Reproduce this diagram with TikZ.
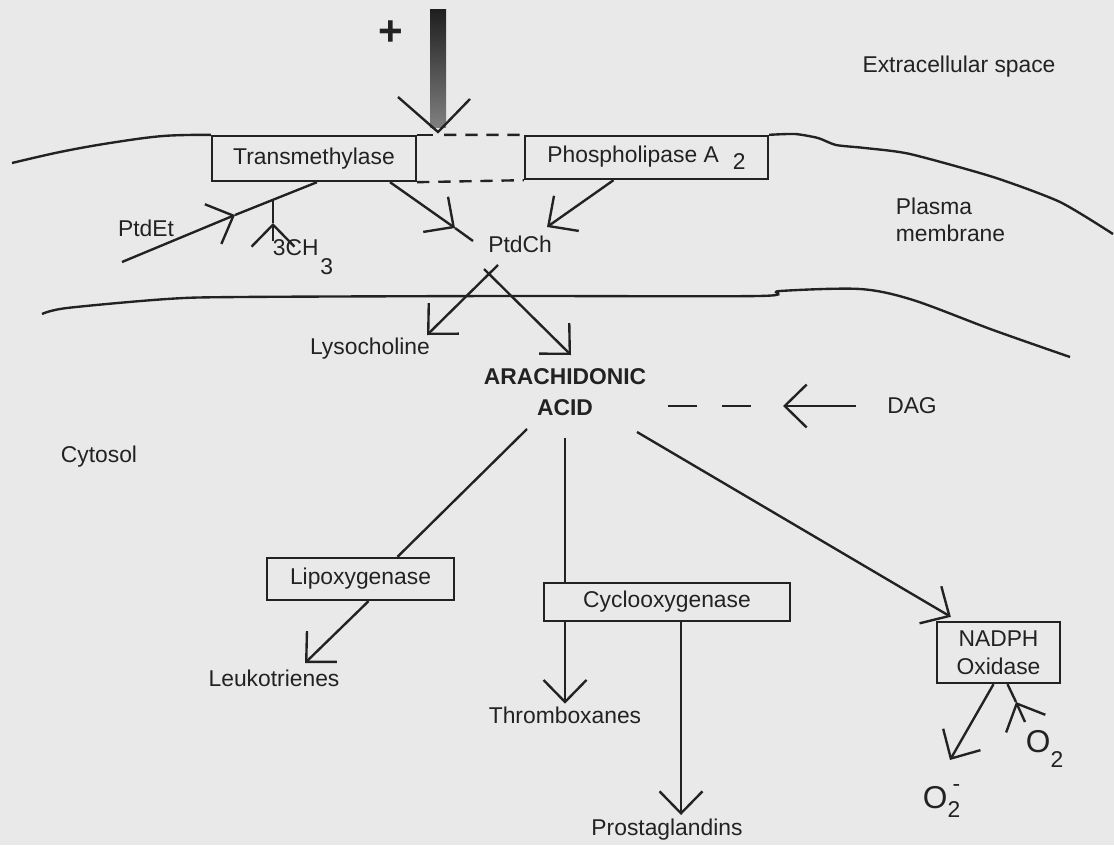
\documentclass[tikz,border=0pt]{standalone}
\usepackage{fontspec}
\setmainfont{Liberation Sans}
\usetikzlibrary{calc, arrows.meta}
\definecolor{paper}{RGB}{233,233,233}
\definecolor{ink}{RGB}{34,34,34}

\begin{document}
\begin{tikzpicture}[x=0.02cm, y=-0.02cm, line width=1.35pt, color=ink,
    lbl/.style={font=\fontsize{13}{15}\selectfont, text=ink, inner sep=1pt},
    enzyme/.style={lbl, draw=ink, line width=1.35pt, inner sep=0pt},
    barb/.style={-{Straight Barb[length=0.44cm, width=0.86cm]}},
    gapdash/.style={dash pattern=on 7pt off 5pt},
    dagdash/.style={dash pattern=on 16.5pt off 14pt}]
    \fill[paper] (0,0) rectangle (1114,845);
    \useasboundingbox (0,0) rectangle (1114,845);

    \coordinate (stim) at (438,132);
    \coordinate (et0) at (122,262);
    \coordinate (etTip) at (235,215);
    \coordinate (chFoot) at (273,241);
    \coordinate (chTip) at (273,223);
    \coordinate (chJoin) at (273,200);
    \coordinate (tmTip) at (455,228);
    \coordinate (tmEnd) at (473,241);
    \coordinate (plTip) at (547,227);
    \coordinate (pcL) at (498,265);
    \coordinate (pcR) at (484,269);
    \coordinate (lyTip) at (427,335);
    \coordinate (aaTip) at (571,355);
    \coordinate (dagTip) at (783,406);
    \coordinate (aaDash) at (668,406);
    \coordinate (dashEnd) at (760,406);
    \coordinate (aaSW) at (527,429);
    \coordinate (aaS) at (565,438);
    \coordinate (aaSE) at (637,432);
    \coordinate (lkTip) at (305,663);
    \coordinate (pgTip) at (681,815);
    \coordinate (soxTip) at (950,760);
    \coordinate (o2Foot) at (1025,722);
    \coordinate (o2Tip) at (1016,702);

    \node[lbl, font=\fontsize{24}{24}\selectfont\bfseries] (plus) at (391,33) {+};
    \node[lbl] (ecs) at (959,67) {Extracellular space};
    \node[lbl, align=left, anchor=west] (pm) at (893,220) {Plasma\\membrane};
    \node[enzyme, minimum width=4.08cm, minimum height=0.9cm] (tm) at (314,158.5) {Transmethylase};
    \node[enzyme, minimum width=4.86cm, minimum height=0.86cm] (pl) at (646.5,157.5) {Phospholipase A\hspace{8pt}\raisebox{-4pt}{2}};
    \node[lbl] (et) at (146,228) {PtdEt};
    \node[lbl, anchor=base west] (ch) at (270,255) {3CH\hspace{1pt}\raisebox{-11pt}{3}};
    \node[lbl] (pc) at (520,244) {PtdCh};
    \node[lbl] (ly) at (370,349) {Lysocholine};
    \node[lbl, font=\fontsize{13}{17.5}\selectfont\bfseries, align=center] (aa) at (565,392) {ARACHIDONIC\\ACID};
    \node[lbl] (dag) at (912,406) {DAG};
    \node[lbl] (cy) at (99,457) {Cytosol};
    \node[enzyme, minimum width=3.74cm, minimum height=0.84cm] (lx) at (360.5,579) {Lipoxygenase};
    \node[enzyme, minimum width=4.92cm, minimum height=0.76cm] (cx) at (667,602) {Cyclooxygenase\hspace{8pt}};
    \node[enzyme, minimum width=2.46cm, minimum height=1.22cm, align=center, font=\fontsize{13}{16}\selectfont] (ox) at (998.5,652.5) {NADPH\\Oxidase};
    \node[lbl] (lk) at (274,678) {Leukotrienes};
    \node[lbl] (tb) at (565,715) {Thromboxanes};
    \node[lbl] (pg) at (667,830) {Prostaglandins};
    \node[lbl, anchor=base west, font=\fontsize{18}{18}\selectfont] (sox) at (920,808) {O\raisebox{-5.5pt}{\fontsize{13}{13}\selectfont 2}\llap{\raisebox{9.5pt}{\fontsize{13}{13}\selectfont -}}};
    \node[lbl, anchor=base west, font=\fontsize{18}{18}\selectfont] (o2) at (1023,752) {O\raisebox{-9pt}{\fontsize{13}{13}\selectfont 2}};

    \shade[top color=black!88, bottom color=black!50] (430,9) rectangle (446,127);
    \draw (398,97) -- (stim) -- (470,99);

    \draw plot[smooth, tension=0.6] coordinates {(12,163) (60,152) (110,143) (163,136) (tm.north west)};
    \draw (tm.north east) -- ($(tm.north east)+(16,0)$);
    \draw[gapdash] ($(tm.north east)+(27,0)$) -- (pl.north west);
    \draw[gapdash] (tm.south east) -- (pl.south west);
    \draw plot[smooth, tension=0.4] coordinates {(pl.north east) (795,134) (818,138) (836,145) (865,148) (910,154) (993,177) (1060,202) (1113,234)};
    \draw plot[smooth, tension=0.5] coordinates {(42,314) (67,308) (167,299) (240,297) (500,296) (758,296) (780,291) (860,289) (913,300) (993,330) (1070,357)};

    \draw[barb] (et0) -- (etTip);
    \draw (etTip) -- ($(tm.south)+(3,0)$);
    \draw[barb] (chFoot) -- (chTip);
    \draw (chTip) -- (chJoin);
    \draw[barb] ($(tm.south)+(76,0)$) -- (tmTip);
    \draw (tmTip) -- (tmEnd);
    \draw[barb] ($(pl.south)+(-33,0)$) -- (plTip);

    \draw[barb] (pcL) -- (lyTip);
    \draw[barb] (pcR) -- (aaTip);
    \draw[barb] ($(dag.west)+(-28,0)$) -- (dagTip);
    \draw[dagdash] (aaDash) -- (dashEnd);

    \draw (aaSW) -- ($(lx.north)+(37,0)$);
    \draw[barb] ($(lx.south)+(8,0)$) -- (lkTip);
    \draw (aaS) -- (aaS |- cx.north);
    \draw[barb] (cx.south -| tb.north) -- (tb.north);
    \draw[barb] (cx.south -| pgTip) -- (pgTip);
    \draw[barb] (aaSE) -- ($(ox.north west)+(15,-4)$);
    \draw[barb] ($(ox.south)+(-5,0)$) -- (soxTip);
    \draw[barb] (o2Foot) -- (o2Tip);
    \draw (o2Tip) -- ($(ox.south)+(9,0)$);
\end{tikzpicture}
\end{document}
